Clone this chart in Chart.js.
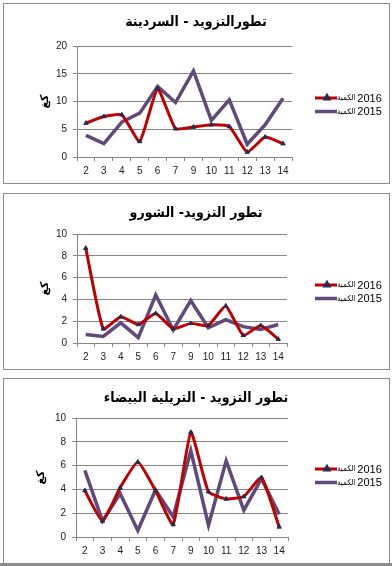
<!DOCTYPE html>
<html>
<head>
<meta charset="utf-8">
<script src="https://cdn.jsdelivr.net/npm/chart.js@4.4.1/dist/chart.umd.min.js"></script>
<style>
  html, body { margin: 0; padding: 0; background: #fff; }
  #page { position: relative; width: 392px; height: 566px; overflow: hidden; }
  .panel { position: absolute; left: 3px; width: 385px; border: 1px solid #8c8c8c; background: #fff; }
  .wrap { position: absolute; left: 0; width: 392px; }
  #bottomBar { position: absolute; left: 0; top: 563px; width: 392px; height: 3px; background: #8c8c8c; }
</style>
</head>
<body>
<div id="page">
  <div class="panel" style="top:3px;height:179px;"></div>
  <div class="panel" style="top:193px;height:175px;"></div>
  <div class="panel" style="top:378px;height:184px;"></div>
  <div id="bottomBar"></div>
  <div class="wrap" style="top:4px;height:179px;"><canvas id="ch1"></canvas></div>
  <div class="wrap" style="top:194px;height:175px;"><canvas id="ch2"></canvas></div>
  <div class="wrap" style="top:379px;height:184px;"><canvas id="ch3"></canvas></div>
</div>
<script>
// ── Data ──────────────────────────────────────────────────────────────────────
const categories = ['2', '3', '4', '5', '6', '7', '9', '10', '11', '12', '13', '14'];
const seriesWord = 'الكمية';
const seriesYears = ['2016', '2015'];

const sardine2016 = [6.1, 7.3, 7.6, 2.8, 12.3, 5.1, 5.4, 5.8, 5.5, 0.9, 3.6, 2.4];
const sardine2015 = [3.9, 2.4, 6.3, 7.9, 12.7, 9.8, 15.5, 6.6, 10.3, 2.3, 5.8, 10.6];

const chourou2016 = [8.7, 1.3, 2.4, 1.7, 2.7, 1.3, 1.8, 1.6, 3.4, 0.7, 1.6, 0.35];
const chourou2015 = [0.77, 0.6, 1.85, 0.5, 4.4, 1.2, 3.9, 1.4, 2.15, 1.5, 1.25, 1.7];

const trilia2016 = [3.9, 1.35, 4.15, 6.3, 3.9, 1.05, 8.8, 3.8, 3.2, 3.4, 5.0, 0.85];
const trilia2015 = [5.6, 1.35, 3.65, 0.55, 3.95, 1.7, 7.25, 1.0, 6.4, 2.25, 4.9, 1.9];

const yTitle = 'كغ';

// ── Styling ───────────────────────────────────────────────────────────────────
const FONT = "'Liberation Sans', 'DejaVu Sans', Arial, sans-serif";
const TITLE_FONT = "'DejaVu Sans Condensed', 'DejaVu Sans', sans-serif";
const RED = '#c00000';
const PURPLE = '#604a7b';
const MARK = '#1f2f55';
const GRID = '#868686';

// legend drawn to the right of the plot area (Arabic word small, year after it)
const sideLegend = {
  id: 'sideLegend',
  afterDraw(chart, args, opts) {
    const ctx = chart.ctx;
    ctx.save();
    chart.data.datasets.forEach(function(ds, i) {
      const y = opts.y + i * 13.5;
      const x0 = opts.x;
      ctx.strokeStyle = ds.borderColor;
      ctx.lineWidth = ds.borderWidth;
      ctx.beginPath();
      ctx.moveTo(x0, y);
      ctx.lineTo(x0 + 22, y);
      ctx.stroke();
      if (ds.pointRadius > 0) {
        ctx.fillStyle = ds.pointBackgroundColor;
        ctx.strokeStyle = ds.pointBorderColor;
        Chart.helpers.drawPoint(ctx, { pointStyle: 'triangle', radius: 2.2, borderWidth: 1 }, x0 + 12, y);
      }
      const parts = ds.label.split('|');
      ctx.fillStyle = '#000';
      ctx.textBaseline = 'middle';
      ctx.textAlign = 'left';
      ctx.font = '8px ' + TITLE_FONT;
      ctx.fillText(parts[0], x0 + 22, y);
      const w = ctx.measureText(parts[0]).width;
      ctx.font = '11px ' + FONT;
      ctx.fillText(parts[1], x0 + 24 + w, y + 0.5);
    });
    ctx.restore();
  }
};

function makeChart(id, title, data16, data15, yMax, yStep, box) {
  const el = document.getElementById(id);
  el.width = 392;
  el.height = box.h;
  el.style.width = '392px';
  el.style.height = box.h + 'px';
  return new Chart(el, {
    type: 'line',
    data: {
      labels: categories,
      datasets: [
        {
          label: seriesWord + '|' + seriesYears[0], data: data16,
          borderColor: RED, borderWidth: 3, tension: 0.15,
          pointStyle: 'triangle', pointRadius: 2.5,
          pointBackgroundColor: MARK, pointBorderColor: MARK, pointBorderWidth: 1
        },
        {
          label: seriesWord + '|' + seriesYears[1], data: data15,
          borderColor: PURPLE, borderWidth: 3.5, tension: 0,
          pointRadius: 0
        }
      ]
    },
    options: {
      responsive: false,
      animation: false,
      layout: { padding: 0 },
      plugins: {
        legend: { display: false },
        tooltip: { enabled: false },
        title: {
          display: true, text: title, color: '#000',
          font: { family: TITLE_FONT, size: box.titleSize, weight: 'bold', lineHeight: 1.25 },
          padding: { top: box.titleY - box.titleSize * 0.625, bottom: box.top - box.titleY - box.titleSize * 0.625 }
        },
        sideLegend: { x: 315, y: box.legendY }
      },
      scales: {
        x: {
          type: 'category',
          offset: true,
          afterFit: function(s) { s.height = box.h - box.bottom; },
          grid: { display: true, drawOnChartArea: false, drawTicks: true, tickLength: 4, offset: true, color: GRID },
          border: { color: GRID, width: 1 },
          ticks: { color: '#222', font: { family: FONT, size: 10 }, padding: 4, maxRotation: 0, autoSkip: false }
        },
        y: {
          min: 0, max: yMax,
          afterFit: function(s) { s.width = box.left; },
          grid: { color: GRID, lineWidth: 1, drawTicks: true, tickLength: 4 },
          border: { color: GRID, width: 1 },
          ticks: { stepSize: yStep, color: '#222', font: { family: FONT, size: 10 }, padding: 6 },
          title: {
            display: true, text: yTitle, color: '#000',
            font: { family: FONT, size: 11, weight: 'bold' },
            padding: { top: box.yTitleX - 7, bottom: 0 }
          }
        },
        side: {
          type: 'linear', position: 'right',
          afterFit: function(s) { s.width = 392 - box.right; },
          grid: { display: false },
          border: { display: false },
          ticks: { display: false }
        }
      }
    },
    plugins: [sideLegend]
  });
}

makeChart('ch1', 'تطورالتزويد - السردينة', sardine2016, sardine2015, 20, 5,
  { h: 179, left: 77, right: 292, top: 42, bottom: 153, titleY: 18, titleSize: 14, legendY: 94, yTitleX: 45 });
makeChart('ch2', 'تطور التزويد- الشورو', chourou2016, chourou2015, 10, 2,
  { h: 175, left: 77, right: 287, top: 40, bottom: 149, titleY: 19, titleSize: 14, legendY: 91, yTitleX: 45 });
makeChart('ch3', 'تطور التزويد - التريلية البيضاء', trilia2016, trilia2015, 10, 2,
  { h: 184, left: 76, right: 288, top: 39, bottom: 158, titleY: 19, titleSize: 14, legendY: 90, yTitleX: 41 });
</script>
</body>
</html>
